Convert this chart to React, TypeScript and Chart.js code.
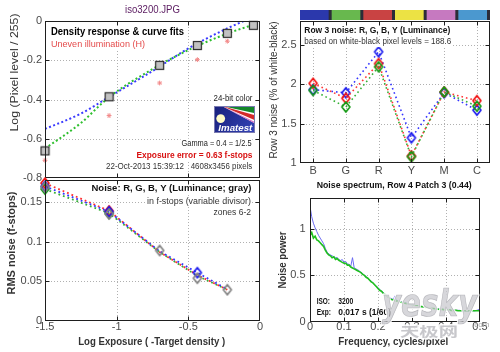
import React, { useEffect, useRef } from "react";
import { Chart, registerables } from "chart.js";

Chart.register(...registerables);

const PAGE_W = 500;
const PAGE_H = 352;
const FONT = "'Liberation Sans', Arial, Helvetica, sans-serif";
const CJK_FONT = "'Noto Sans CJK SC', sans-serif";
const TICK_COLOR = "#4a4a4a";

// ---------- Panel 1: density response ----------
const STEP_EXPOSURE = [-1.5, -1.053, -0.7, -0.437, -0.228, -0.046];
const STEP_LOG_LEVEL = [-0.662, -0.386, -0.226, -0.125, -0.063, -0.022];
const UNEVEN_EXPOSURE = [-1.5, -1.053, -0.7, -0.437, -0.228];
const UNEVEN_LOG_LEVEL = [-0.71, -0.482, -0.316, -0.197, -0.103];
const FIT_EXPOSURE = [-1.5, -1.25, -1.053, -0.75, -0.5, -0.25, 0];
const FIT_BLUE = [-0.55, -0.472, -0.387, -0.255, -0.14, -0.045, 0.035];
const FIT_GREEN = [-0.65, -0.52, -0.388, -0.245, -0.148, -0.07, -0.008];
const DENSITY_Y_TICKS = [0, -0.2, -0.4, -0.6, -0.8];
const EXPOSURE_TICKS = [-1.5, -1, -0.5, 0];

// ---------- Panel 2: RMS noise in f-stops ----------
const ZONE_EXPOSURE = [-1.5, -1.053, -0.7, -0.437, -0.228];
const NOISE_R = [0.174, 0.139, 0.087, 0.058, 0.0395];
const NOISE_G = [0.1665, 0.136, 0.087, 0.057, 0.0395];
const NOISE_B = [0.17, 0.138, 0.088, 0.061, 0.04];
const NOISE_Y = [0.169, 0.135, 0.089, 0.054, 0.0395];
const NOISE_Y_TICKS = [0, 0.05, 0.1, 0.15];

// ---------- Panel 3: row 3 noise ----------
const PATCHES = ["B", "G", "R", "Y", "M", "C"];
const PATCH_COLORS = ["#2b38ac", "#68b84e", "#c94343", "#ece244", "#c679c0", "#4b98cf"];
const ROW3_R = [2.01, 1.82, 2.26, 1.09, 1.9, 1.79];
const ROW3_G = [1.92, 1.71, 2.22, 1.08, 1.9, 1.72];
const ROW3_B = [1.93, 1.89, 2.41, 1.32, 1.89, 1.67];
const ROW3_Y_TICKS = [1, 1.5, 2, 2.5];

// ---------- Panel 4: noise spectrum ----------
const SPEC_STEP = 0.005;
const SPEC_BLUE = [
  1.24, 1.13, 1.06, 1.01, 0.97, 0.93, 0.9, 0.87, 0.84, 0.79,
  0.75, 0.73, 0.72, 0.71, 0.7, 0.69, 0.69, 0.67, 0.66, 0.67,
  0.64, 0.65, 0.62, 0.62, 0.6, 0.69, 0.58, 0.57, 0.56, 0.55,
  0.53, 0.52, 0.5, 0.49, 0.47, 0.45, 0.44, 0.42, 0.4, 0.38,
  0.37, 0.35, 0.33, 0.32, 0.3, 0.29, 0.27, 0.26, 0.25, 0.24,
  0.28, 0.23, 0.225, 0.22, 0.215, 0.21, 0.205, 0.2, 0.195, 0.19,
  0.19, 0.185, 0.18, 0.175, 0.17, 0.17, 0.165, 0.16, 0.16, 0.155,
  0.15, 0.15, 0.145, 0.145, 0.14, 0.14, 0.14, 0.135, 0.135, 0.135,
  0.14, 0.13, 0.13, 0.13, 0.13, 0.125, 0.125, 0.125, 0.125, 0.12,
  0.12, 0.12, 0.12, 0.12, 0.12, 0.12, 0.12, 0.12, 0.125, 0.13,
  0.15,
];
const SPEC_GREEN = [
  0.93, 0.96, 0.9, 0.92, 0.88, 0.87, 0.85, 0.83, 0.81, 0.77,
  0.74, 0.72, 0.71, 0.69, 0.7, 0.67, 0.68, 0.66, 0.65, 0.64,
  0.63, 0.63, 0.61, 0.61, 0.59, 0.58, 0.57, 0.56, 0.55, 0.54,
  0.53, 0.51, 0.5, 0.48, 0.47, 0.45, 0.43, 0.42, 0.4, 0.38,
  0.36, 0.34, 0.33, 0.31, 0.3, 0.28, 0.27, 0.25, 0.24, 0.235,
  0.23, 0.225, 0.22, 0.215, 0.21, 0.205, 0.2, 0.195, 0.19, 0.19,
  0.185, 0.18, 0.175, 0.175, 0.17, 0.165, 0.165, 0.16, 0.155, 0.155,
  0.15, 0.15, 0.145, 0.145, 0.14, 0.14, 0.135, 0.135, 0.135, 0.13,
  0.13, 0.13, 0.13, 0.125, 0.125, 0.125, 0.125, 0.12, 0.12, 0.12,
  0.12, 0.12, 0.12, 0.12, 0.12, 0.12, 0.12, 0.12, 0.12, 0.12,
  0.12,
];
const SPEC_X_TICKS = [0, 0.1, 0.2, 0.3, 0.4, 0.5];
const SPEC_Y_TICKS = [0, 0.5, 1];

// ---------- helpers ----------
type TextSpec = {
  s: string;
  x: number;
  y: number;
  size: number;
  w?: number;
  bold?: boolean;
  italic?: boolean;
  color?: string;
  align?: "left" | "right" | "center";
  rot?: boolean;
  bg?: boolean;
  family?: string;
};

function drawText(ctx: CanvasRenderingContext2D, t: TextSpec) {
  ctx.save();
  ctx.font = `${t.italic ? "italic " : ""}${t.bold ? "bold " : ""}${t.size}px ${t.family || FONT}`;
  ctx.textBaseline = "middle";
  ctx.textAlign = t.align || "left";
  ctx.translate(t.x, t.y);
  if (t.rot) ctx.rotate(-Math.PI / 2);
  const nat = ctx.measureText(t.s).width;
  if (t.w) ctx.scale(t.w / nat, 1);
  if (t.bg) {
    const x0 = t.align === "right" ? -nat : t.align === "center" ? -nat / 2 : 0;
    ctx.fillStyle = "#ffffff";
    ctx.fillRect(x0 - 1, -t.size * 0.62, nat + 2, t.size * 1.24);
  }
  ctx.fillStyle = t.color || "#222";
  ctx.fillText(t.s, 0, 0);
  ctx.restore();
}

function fmt(v: number) {
  return String(Math.round(v * 1000) / 1000);
}

function drawGrid(chart: any, xv: number[], yv: number[]) {
  const { ctx, chartArea: a } = chart;
  const xs = chart.scales.x;
  const ys = chart.scales.y;
  ctx.save();
  ctx.strokeStyle = "#b0b0b0";
  ctx.lineWidth = 1;
  ctx.setLineDash([1, 2]);
  ctx.beginPath();
  xv.forEach((v) => {
    const p = Math.round(xs.getPixelForValue(v)) + 0.5;
    if (p <= a.left + 1 || p >= a.right - 1) return;
    ctx.moveTo(p, a.top);
    ctx.lineTo(p, a.bottom);
  });
  yv.forEach((v) => {
    const p = Math.round(ys.getPixelForValue(v)) + 0.5;
    if (p <= a.top + 1 || p >= a.bottom - 1) return;
    ctx.moveTo(a.left, p);
    ctx.lineTo(a.right, p);
  });
  ctx.stroke();
  ctx.restore();
}

function drawFrame(chart: any, xv: number[], yv: number[]) {
  const { ctx, chartArea: a } = chart;
  const xs = chart.scales.x;
  const ys = chart.scales.y;
  const L = Math.round(a.left) + 0.5;
  const R = Math.round(a.right) - 0.5;
  const T = Math.round(a.top) + 0.5;
  const B = Math.round(a.bottom) - 0.5;
  ctx.save();
  ctx.strokeStyle = "#1e1e1e";
  ctx.lineWidth = 1;
  ctx.setLineDash([]);
  ctx.strokeRect(L, T, R - L, B - T);
  ctx.beginPath();
  xv.forEach((v) => {
    const p = Math.min(Math.max(Math.round(xs.getPixelForValue(v)) + 0.5, L), R);
    ctx.moveTo(p, B);
    ctx.lineTo(p, B - 4);
    ctx.moveTo(p, T);
    ctx.lineTo(p, T + 4);
  });
  yv.forEach((v) => {
    const p = Math.min(Math.max(Math.round(ys.getPixelForValue(v)) + 0.5, T), B);
    ctx.moveTo(L, p);
    ctx.lineTo(L + 4, p);
    ctx.moveTo(R, p);
    ctx.lineTo(R - 4, p);
  });
  ctx.stroke();
  ctx.restore();
}

function yTickLabels(chart: any, vals: number[], xRight: number) {
  vals.forEach((v) =>
    drawText(chart.ctx, {
      s: fmt(v),
      x: xRight,
      y: chart.scales.y.getPixelForValue(v),
      size: 11,
      color: TICK_COLOR,
      align: "right",
    })
  );
}

function xTickLabels(chart: any, vals: number[], y: number, labels?: string[]) {
  vals.forEach((v, i) =>
    drawText(chart.ctx, {
      s: labels ? labels[i] : fmt(v),
      x: chart.scales.x.getPixelForValue(v),
      y,
      size: 11,
      color: TICK_COLOR,
      align: "center",
    })
  );
}

function diamondMarker(color: string, w = 8, h = 10, lw = 1.7) {
  const c = document.createElement("canvas");
  c.width = w + 4;
  c.height = h + 4;
  const g = c.getContext("2d")!;
  g.strokeStyle = color;
  g.lineWidth = lw;
  g.lineJoin = "round";
  const cx = c.width / 2;
  const cy = c.height / 2;
  g.beginPath();
  g.moveTo(cx, cy - h / 2);
  g.lineTo(cx + w / 2, cy);
  g.lineTo(cx, cy + h / 2);
  g.lineTo(cx - w / 2, cy);
  g.closePath();
  g.stroke();
  return c;
}

function squareMarker(size = 9) {
  const c = document.createElement("canvas");
  c.width = size + 2;
  c.height = size + 2;
  const g = c.getContext("2d")!;
  g.fillStyle = "#c2c2c2";
  g.fillRect(1, 1, size, size);
  g.strokeStyle = "#2a2a2a";
  g.lineWidth = 1.2;
  g.strokeRect(1.5, 1.5, size - 1, size - 1);
  return c;
}

function drawLogo(ctx: CanvasRenderingContext2D, x: number, y: number, w: number, h: number) {
  ctx.save();
  const grad = ctx.createLinearGradient(x, y, x + w, y + h);
  grad.addColorStop(0, "#18207a");
  grad.addColorStop(1, "#3444b8");
  ctx.fillStyle = grad;
  ctx.fillRect(x, y, w, h);
  ctx.beginPath();
  ctx.rect(x, y, w, h);
  ctx.clip();
  const ax = x + 8;
  const ay = y;
  const R = x + w;
  const band = (y0: number, y1: number, color: string) => {
    ctx.beginPath();
    ctx.moveTo(ax, ay);
    ctx.lineTo(R, y + y0);
    ctx.lineTo(R, y + y1);
    ctx.closePath();
    ctx.fillStyle = color;
    ctx.fill();
  };
  band(-2, 17.6, "#ffffff");
  band(-2, 7.2, "#14872a");
  band(9.3, 14.3, "#d42a2a");
  band(16, 17.6, "#d870c8");
  ctx.fillStyle = "#fffcc6";
  ctx.beginPath();
  ctx.arc(x + 6.7, y + 12.6, 4.4, 0, Math.PI * 2);
  ctx.fill();
  ctx.restore();
  drawText(ctx, { s: "Imatest", x: x + 4.3, y: y + 22.4, size: 9.5, bold: true, italic: true, color: "#ffffff", w: 34 });
  ctx.save();
  ctx.strokeStyle = "#7a7ab0";
  ctx.lineWidth = 1;
  ctx.strokeRect(x + 0.5, y + 0.5, w - 1, h - 1);
  ctx.restore();
}

function drawWatermark(ctx: CanvasRenderingContext2D) {
  ctx.save();
  ctx.font = "italic bold 38px 'DejaVu Sans', sans-serif";
  ctx.textBaseline = "alphabetic";
  ctx.lineJoin = "round";
  const nat = ctx.measureText("yesky").width;
  ctx.translate(382, 316);
  ctx.scale(95 / nat, 1);
  ctx.strokeStyle = "rgba(255,255,255,0.9)";
  ctx.lineWidth = 3.5;
  ctx.strokeText("yesky", 0, 0);
  ctx.fillStyle = "rgba(200,200,205,0.72)";
  ctx.fillText("yesky", 0, 0);
  ctx.strokeStyle = "rgba(140,140,148,0.55)";
  ctx.lineWidth = 0.7;
  ctx.strokeText("yesky", 0, 0);
  ctx.restore();

  ctx.save();
  ctx.font = `bold 13px ${CJK_FONT}`;
  ctx.textBaseline = "middle";
  ctx.lineJoin = "round";
  const n2 = ctx.measureText("天极网").width;
  ctx.translate(400, 331);
  ctx.scale(58 / n2, 1);
  ctx.strokeStyle = "rgba(255,255,255,0.9)";
  ctx.lineWidth = 3;
  ctx.strokeText("天极网", 0, 0);
  ctx.fillStyle = "rgba(185,185,190,0.8)";
  ctx.fillText("天极网", 0, 0);
  ctx.restore();

  drawText(ctx, { s: ".com", x: 472, y: 324.5, size: 8, color: "#a8a8a8" });
}

function baseOptions(area: { l: number; t: number; r: number; b: number }, xr: number[], yr: number[]) {
  return {
    responsive: false,
    animation: false as const,
    events: [] as any[],
    layout: { padding: { left: area.l, top: area.t, right: PAGE_W - area.r, bottom: PAGE_H - area.b } },
    plugins: { legend: { display: false }, tooltip: { enabled: false } },
    scales: {
      x: { type: "linear" as const, min: xr[0], max: xr[1], display: false },
      y: { type: "linear" as const, min: yr[0], max: yr[1], display: false },
    },
  };
}

function pts(xs: number[], ys: number[]) {
  return xs.map((x, i) => ({ x, y: ys[i] }));
}

// ---------- charts ----------
function buildDensity(canvas: HTMLCanvasElement) {
  const sq = squareMarker(9);
  return new Chart(canvas, {
    type: "line",
    data: {
      datasets: [
        { data: pts(STEP_EXPOSURE, STEP_LOG_LEVEL), showLine: false, pointStyle: sq as any, pointRadius: 5, clip: false as any, order: 0 },
        {
          data: pts(UNEVEN_EXPOSURE, UNEVEN_LOG_LEVEL),
          showLine: false,
          pointStyle: "star",
          pointRadius: 2.4,
          pointBorderColor: "#f28888",
          pointBorderWidth: 1,
          clip: false as any,
          order: 1,
        },
        {
          data: pts(FIT_EXPOSURE, FIT_GREEN),
          borderColor: "#2fbf2f",
          borderWidth: 2,
          borderDash: [2, 2.4],
          pointRadius: 0,
          cubicInterpolationMode: "monotone",
          order: 2,
        },
        {
          data: pts(FIT_EXPOSURE, FIT_BLUE),
          borderColor: "#3a3aff",
          borderWidth: 2,
          borderDash: [2, 2.4],
          pointRadius: 0,
          cubicInterpolationMode: "monotone",
          order: 3,
        },
      ],
    },
    options: baseOptions({ l: 45, t: 21, r: 260, b: 178 }, [-1.5, 0], [-0.8, 0]) as any,
    plugins: [
      {
        id: "densityDeco",
        beforeDatasetsDraw(chart: any) {
          drawGrid(chart, EXPOSURE_TICKS, DENSITY_Y_TICKS);
        },
        afterDatasetsDraw(chart: any) {
          const ctx = chart.ctx;
          drawText(ctx, { s: "Density response & curve fits", x: 51, y: 32.3, size: 10, bold: true, color: "#000", w: 133, bg: true });
          drawText(ctx, { s: "Uneven illumination (H)", x: 51, y: 44.5, size: 9.5, color: "#e44a4a", w: 94, bg: true });
          drawText(ctx, { s: "24-bit color", x: 252.5, y: 99, size: 8.5, color: "#222", w: 39, align: "right", bg: true });
          drawLogo(ctx, 214, 106, 41, 27);
          drawText(ctx, { s: "Gamma = 0.4 = 1/2.5", x: 251.5, y: 144, size: 8.5, color: "#222", w: 70, align: "right", bg: true });
          drawText(ctx, { s: "Exposure error = 0.63 f-stops", x: 252.5, y: 155.5, size: 9, bold: true, color: "#d81010", w: 116, align: "right", bg: true });
          drawText(ctx, { s: "22-Oct-2013 15:39:12", x: 106, y: 167, size: 8.5, color: "#333", w: 78, bg: true });
          drawText(ctx, { s: "4608x3456 pixels", x: 190.7, y: 167, size: 8.5, color: "#333", w: 61.6, bg: true });
          drawFrame(chart, EXPOSURE_TICKS, DENSITY_Y_TICKS);
        },
        afterDraw(chart: any) {
          const ctx = chart.ctx;
          yTickLabels(chart, DENSITY_Y_TICKS, 42);
          drawText(ctx, { s: "iso3200.JPG", x: 152.5, y: 10, size: 10, color: "#5a1a60", w: 55, align: "center" });
          drawText(ctx, { s: "Log (Pixel level / 255)", x: 15, y: 72.5, size: 10, color: "#333", w: 118, align: "center", rot: true });
        },
      },
    ],
  });
}

function buildNoise(canvas: HTMLCanvasElement) {
  const mk = (vals: number[], line: string, marker: string, order: number, radii: number[], showLine = true) => ({
    data: pts(ZONE_EXPOSURE, vals),
    showLine,
    borderColor: line,
    borderWidth: 1.8,
    borderDash: [1.8, 3],
    pointStyle: diamondMarker(marker) as any,
    pointRadius: radii,
    clip: false as any,
    order,
  });
  return new Chart(canvas, {
    type: "line",
    data: {
      datasets: [
        mk(NOISE_Y, "#888888", "#808080", 0, [4, 4, 4, 4, 4], false),
        mk(NOISE_B, "#3535ff", "#1a1aee", 1, [4, 4, 0, 4, 0]),
        mk(NOISE_R, "#ff3030", "#f01010", 2, [4, 4, 0, 0, 0]),
        mk(NOISE_G, "#35b035", "#159a15", 3, [4, 4, 0, 0, 0]),
      ],
    },
    options: baseOptions({ l: 45, t: 180, r: 260, b: 321 }, [-1.5, 0], [0, 0.178]) as any,
    plugins: [
      {
        id: "noiseDeco",
        beforeDatasetsDraw(chart: any) {
          drawGrid(chart, EXPOSURE_TICKS, NOISE_Y_TICKS);
        },
        afterDatasetsDraw(chart: any) {
          const ctx = chart.ctx;
          drawText(ctx, { s: "Noise: R, G, B, Y (Luminance; gray)", x: 251.5, y: 188, size: 9.5, bold: true, color: "#111", w: 160, align: "right", bg: true });
          drawText(ctx, { s: "in f-stops (variable divisor)", x: 251, y: 201.5, size: 9, color: "#333", w: 104, align: "right", bg: true });
          drawText(ctx, { s: "zones 6-2", x: 251, y: 212.7, size: 9, color: "#333", w: 37.5, align: "right", bg: true });
          drawFrame(chart, EXPOSURE_TICKS, NOISE_Y_TICKS);
        },
        afterDraw(chart: any) {
          const ctx = chart.ctx;
          yTickLabels(chart, NOISE_Y_TICKS, 42);
          xTickLabels(chart, EXPOSURE_TICKS, 327);
          drawText(ctx, { s: "RMS noise (f-stops)", x: 12, y: 243, size: 10, bold: true, color: "#333", w: 103, align: "center", rot: true });
          drawText(ctx, { s: "Log Exposure ( -Target density )", x: 151.7, y: 342.5, size: 10.5, bold: true, color: "#333", w: 147, align: "center" });
        },
      },
    ],
  });
}

function buildRow3(canvas: HTMLCanvasElement) {
  const xs = PATCHES.map((_, i) => i + 1);
  const mk = (vals: number[], line: string, marker: string, order: number) => ({
    data: pts(xs, vals),
    borderColor: line,
    borderWidth: 1.6,
    borderDash: [1.6, 3],
    pointStyle: diamondMarker(marker) as any,
    pointRadius: 4,
    clip: false as any,
    order,
  });
  return new Chart(canvas, {
    type: "line",
    data: {
      datasets: [
        mk(ROW3_G, "#35b035", "#159a15", 0),
        mk(ROW3_R, "#ff3535", "#f01010", 1),
        mk(ROW3_B, "#3535ff", "#1a1aee", 2),
      ],
    },
    options: baseOptions({ l: 300, t: 21, r: 490, b: 163 }, [0.6, 6.4], [1, 2.8]) as any,
    plugins: [
      {
        id: "row3Deco",
        beforeDatasetsDraw(chart: any) {
          drawGrid(chart, xs, ROW3_Y_TICKS);
        },
        afterDatasetsDraw(chart: any) {
          const ctx = chart.ctx;
          const a = chart.chartArea;
          drawText(ctx, { s: "Row 3 noise: R, G, B, Y (Luminance)", x: 304.3, y: 30, size: 9.5, bold: true, color: "#111", w: 146, bg: true });
          drawText(ctx, { s: "based on white-black pixel levels = 188.6", x: 304.3, y: 41.8, size: 8.5, color: "#333", w: 147, bg: true });
          drawFrame(chart, xs, ROW3_Y_TICKS);
          const cw = (a.right - a.left) / PATCHES.length;
          ctx.save();
          ctx.fillStyle = "#2c2c38";
          ctx.fillRect(a.left, a.top - 11, a.right - a.left, 10);
          PATCH_COLORS.forEach((c, i) => {
            ctx.fillStyle = c;
            ctx.fillRect(a.left + i * cw, a.top - 11, cw - 3, 10);
          });
          ctx.restore();
        },
        afterDraw(chart: any) {
          const ctx = chart.ctx;
          yTickLabels(chart, ROW3_Y_TICKS, 296.5);
          xTickLabels(chart, xs, 170.5, PATCHES);
          drawText(ctx, { s: "Row 3 noise (% of white-black)", x: 274.5, y: 90, size: 10, color: "#333", w: 137, align: "center", rot: true });
        },
      },
    ],
  });
}

function buildSpectrum(canvas: HTMLCanvasElement) {
  const fx = SPEC_BLUE.map((_, i) => i * SPEC_STEP);
  return new Chart(canvas, {
    type: "line",
    data: {
      datasets: [
        { data: pts(fx, SPEC_GREEN), borderColor: "#1fc01f", borderWidth: 1.6, pointRadius: 0, order: 0 },
        { data: pts(fx, SPEC_BLUE), borderColor: "#6a6af2", borderWidth: 1, pointRadius: 0, order: 1 },
      ],
    },
    options: baseOptions({ l: 310, t: 198, r: 480, b: 322 }, [0, 0.5], [0, 1.33]) as any,
    plugins: [
      {
        id: "specDeco",
        beforeDatasetsDraw(chart: any) {
          drawGrid(chart, SPEC_X_TICKS, SPEC_Y_TICKS);
        },
        afterDatasetsDraw(chart: any) {
          const ctx = chart.ctx;
          drawText(ctx, { s: "ISO:", x: 316.7, y: 301.3, size: 8.5, bold: true, color: "#111", w: 13.3 });
          drawText(ctx, { s: "3200", x: 338.3, y: 301.3, size: 8.5, bold: true, color: "#111", w: 15 });
          drawText(ctx, { s: "Exp:", x: 316.7, y: 312.7, size: 8.5, bold: true, color: "#111", w: 14.3 });
          drawText(ctx, { s: "0.017 s", x: 338.3, y: 312.7, size: 8.5, bold: true, color: "#111", w: 28.3 });
          drawText(ctx, { s: "(1/60)", x: 369, y: 312.7, size: 8.5, bold: true, color: "#111", w: 22 });
          drawFrame(chart, SPEC_X_TICKS, SPEC_Y_TICKS);
        },
        afterDraw(chart: any) {
          const ctx = chart.ctx;
          yTickLabels(chart, SPEC_Y_TICKS, 305.5);
          xTickLabels(chart, SPEC_X_TICKS, 327);
          drawText(ctx, { s: "Noise spectrum, Row 4 Patch 3 (0.44)", x: 394.2, y: 185.7, size: 9.5, bold: true, color: "#111", w: 155, align: "center" });
          drawText(ctx, { s: "Noise power", x: 283, y: 260, size: 10, bold: true, color: "#333", w: 57, align: "center", rot: true });
          drawText(ctx, { s: "Frequency, cycles/pixel", x: 393.3, y: 342.3, size: 10.5, bold: true, color: "#333", w: 110, align: "center" });
          drawWatermark(ctx);
        },
      },
    ],
  });
}

export default function App() {
  const c1 = useRef<HTMLCanvasElement>(null);
  const c2 = useRef<HTMLCanvasElement>(null);
  const c3 = useRef<HTMLCanvasElement>(null);
  const c4 = useRef<HTMLCanvasElement>(null);

  useEffect(() => {
    const charts = [
      buildDensity(c1.current!),
      buildNoise(c2.current!),
      buildRow3(c3.current!),
      buildSpectrum(c4.current!),
    ];
    return () => charts.forEach((c) => c.destroy());
  }, []);

  const cs: React.CSSProperties = { position: "absolute", left: 0, top: 0, width: PAGE_W, height: PAGE_H };
  return (
    <div style={{ position: "fixed", left: 0, top: 0, width: PAGE_W, height: PAGE_H, background: "#ffffff", overflow: "hidden" }}>
      <canvas ref={c1} width={PAGE_W} height={PAGE_H} style={cs} />
      <canvas ref={c2} width={PAGE_W} height={PAGE_H} style={cs} />
      <canvas ref={c3} width={PAGE_W} height={PAGE_H} style={cs} />
      <canvas ref={c4} width={PAGE_W} height={PAGE_H} style={cs} />
    </div>
  );
}
